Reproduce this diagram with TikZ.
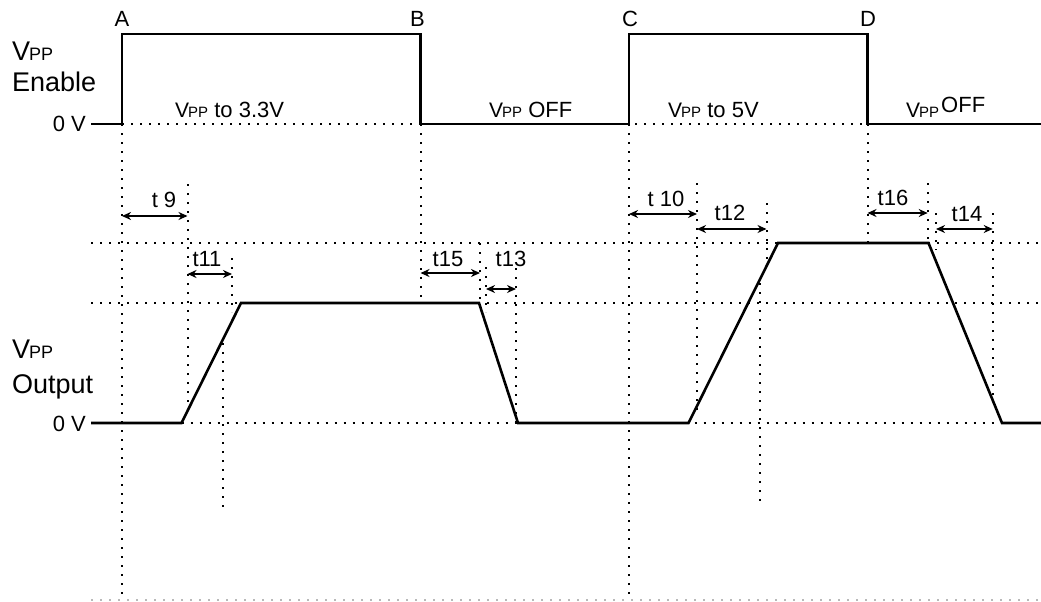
\documentclass[tikz,border=0pt]{standalone}
\usepackage{fontspec}
\setmainfont{Liberation Sans}
\usetikzlibrary{arrows.meta}
\newcommand\fs[1]{\fontsize{#1}{#1}\selectfont}
\newcommand\vppsym[3]{{\fs{#1}V}\kern-#3{\fs{#2}PP}}
\begin{document}
\begin{tikzpicture}[x=1pt,y=-1pt,
  wave/.style={line width=2.6pt, line join=miter, line cap=butt},
  guide/.style={line width=2pt, dash pattern=on 2pt off 7pt},
  faint/.style={line width=1.3pt, gray!55, dash pattern=on 2pt off 7pt},
  span/.style={line width=2pt, {Stealth[length=9pt,width=8pt]}-{Stealth[length=9pt,width=8pt]}},
  lbl/.style={inner sep=0pt, font=\fs{22}},
  big/.style={inner sep=0pt, font=\fs{27}}]
\useasboundingbox (0,0) rectangle (1041,602);

% key coordinates
\coordinate (Lt) at (91,124);  \coordinate (Rt) at (1041,124);
\coordinate (A0) at (122,124); \coordinate (A1) at (122,34);
\coordinate (B1) at (420.5,34); \coordinate (B0) at (420.5,124);
\coordinate (C0) at (629,124); \coordinate (C1) at (629,34);
\coordinate (D1) at (867.5,34); \coordinate (D0) at (867.5,124);

\coordinate (Lo) at (91,423); \coordinate (Ro) at (1041,423);
\coordinate (P1) at (181.5,423); \coordinate (P2) at (241,303);
\coordinate (P3) at (479,303);  \coordinate (P4) at (518,423);
\coordinate (Q1) at (688.5,423); \coordinate (Q2) at (778,243);
\coordinate (Q3) at (928.5,243); \coordinate (Q4) at (1002,423);

% horizontal guides
\draw[guide] (A0) -- (D0);
\draw[guide] (91,243) -- (1041,243);
\draw[guide] (91,303) -- (1041,303);
\draw[guide] (P1) -- (Q4);
\draw[faint] (91,600) -- (1041,600);

% vertical guides
\draw[guide] (A0) -- (122,597);
\draw[guide] (187.5,184) -- (187.5,410);
\draw[guide] (232,258) -- (232,312);
\draw[guide] (222.5,343) -- (222.5,512);
\draw[guide] (B0) -- (420.5,300);
\draw[guide] (480,243) -- (480,302);
\draw[guide] (485.5,267) -- (485.5,312);
\draw[guide] (516,268) -- (516,423);
\draw[guide] (C0) -- (629,597);
\draw[guide] (697,183) -- (697,410);
\draw[guide] (766.5,203) -- (766.5,263);
\draw[guide] (760,283) -- (760,505);
\draw[guide] (D0) -- (867.5,243);
\draw[guide] (927.7,183) -- (927.7,243);
\draw[guide] (936,213) -- (936,250);
\draw[guide] (992.7,213) -- (992.7,400);

% waveforms
\draw[wave] (Lt) -- (A0) -- (A1) -- (B1) -- (B0) -- (C0) -- (C1) -- (D1) -- (D0) -- (Rt);
\draw[wave] (Lo) -- (P1) -- (P2) -- (P3) -- (P4) -- (Q1) -- (Q2) -- (Q3) -- (Q4) -- (Ro);

% timing spans
\draw[span] (122,216) -- (187.5,216);
\draw[span] (187.5,274) -- (232,274);
\draw[span] (420.5,273) -- (480,273);
\draw[span] (486,289) -- (516,289);
\draw[span] (629,214) -- (697,214);
\draw[span] (697,229) -- (766.5,229);
\draw[span] (867.5,213) -- (927.7,213);
\draw[span] (936,229) -- (992.7,229);

\node[lbl] (t9)  at (164,200) {t 9};
\node[lbl] (t11) at (207,259) {t11};
\node[lbl] (t15) at (448,259) {t15};
\node[lbl] (t13) at (511,259) {t13};
\node[lbl] (t10) at (666,199) {t 10};
\node[lbl] (t12) at (730,213) {t12};
\node[lbl] (t16) at (893,198) {t16};
\node[lbl] (t14) at (967,214) {t14};

% edge letters
\node[lbl, anchor=base] (la) at (122,27) {A};
\node[lbl, anchor=base] (lb) at (417.5,27) {B};
\node[lbl, anchor=base] (lc) at (630,27) {C};
\node[lbl, anchor=base] (ld) at (868,27) {D};

% in-plot labels
\node[lbl, anchor=base west] (s1) at (175,117) {\vppsym{21}{15}{1pt} to 3.3V};
\node[lbl, anchor=base west] (s2) at (489,117) {\vppsym{21}{15}{1pt} OFF};
\node[lbl, anchor=base west] (s3) at (668,117) {\vppsym{21}{15}{1pt} to 5V};
\node[lbl, anchor=base west] (s4) at (906,117) {\vppsym{21}{15}{1pt}};
\node[lbl, anchor=base west] (s5) at (941,112) {OFF};

% axis labels
\node[big, anchor=base west] (en1) at (12,60) {\vppsym{27}{18}{1pt}};
\node[big, anchor=base west] (en2) at (12,92) {Enable};
\node[lbl, anchor=base east, font=\fs{22}] (z1) at (86,131) {0 V};
\node[big, anchor=base west] (ou1) at (12,358) {\vppsym{27}{18}{1pt}};
\node[big, anchor=base west] (ou2) at (12,393) {Output};
\node[lbl, anchor=base east, font=\fs{22}] (z2) at (86,431) {0 V};
\end{tikzpicture}
\end{document}
